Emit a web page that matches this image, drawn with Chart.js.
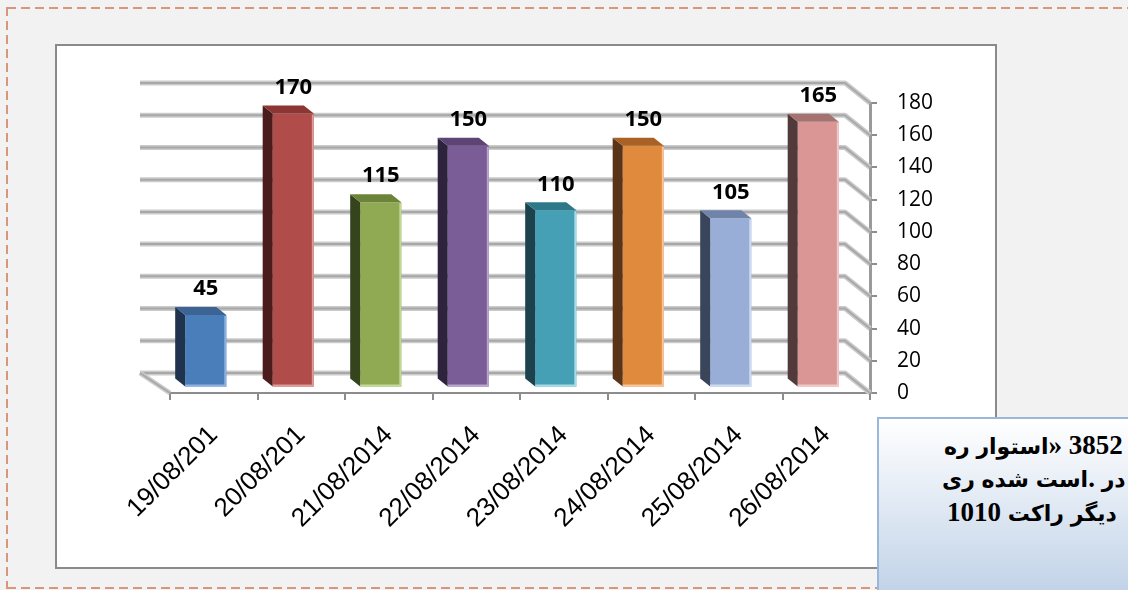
<!DOCTYPE html>
<html>
<head>
<meta charset="utf-8">
<script src="https://cdn.jsdelivr.net/npm/chart.js@4.4.1/dist/chart.umd.min.js"></script>
<style>
  html, body { margin: 0; padding: 0; }
  body { width: 1128px; height: 590px; background: #f2f2f2; position: relative; overflow: hidden; }
  .dash-h { position: absolute; height: 2px; background: repeating-linear-gradient(90deg, #d8967a 0 9px, transparent 9px 14px); }
  .dash-v { position: absolute; width: 2px; background: repeating-linear-gradient(180deg, #d8967a 0 9px, transparent 9px 14px); }
  #box { position: absolute; left: 55px; top: 44px; width: 938px; height: 521px; border: 2px solid #8a8a8a; background: #fff; }
  #box canvas { position: absolute; left: 0; top: 0; }
  #note { position: absolute; left: 877px; top: 417px; width: 320px; height: 200px; border: 2px solid #9bb7da;
          background: linear-gradient(#ffffff, #b8cce4); }
  .line { position: absolute; left: 946px; white-space: nowrap; font: bold 27px "Liberation Serif", "DejaVu Sans", serif; color: #000; }
  .line span { display: inline-block; }
  .line .fa { font-size: 22px; }
</style>
</head>
<body>
<div class="dash-h" style="left:7px; top:7px; width:1121px;"></div>
<div class="dash-h" style="left:7px; top:587px; width:1121px;"></div>
<div class="dash-v" style="left:6px; top:7px; height:582px;"></div>

<div id="box"><canvas id="chart" width="938" height="521"></canvas></div>

<div id="note"></div>
<div class="line" style="top:430px; left:944px;"><span class="fa">ره</span> <span class="fa">استوار</span><span>»</span> <span>3852</span></div>
<div class="line" style="top:463px; left:942px;"><span class="fa">ری</span> <span class="fa">شده</span> <span class="fa">است</span><span>.</span> <span class="fa">در</span></div>
<div class="line" style="top:497px; left:947px;"><span>1010</span> <span class="fa">راکت</span> <span class="fa">دیگر</span></div>

<script>
// data
const categories = ['19/08/201', '20/08/201', '21/08/2014', '22/08/2014', '23/08/2014', '24/08/2014', '25/08/2014', '26/08/2014'];
const values = [45, 170, 115, 150, 110, 150, 105, 165];
const yMin = 0, yMax = 180, yStep = 20;

// colours per bar: front, side, top, edge highlight
const frontColors = ['#4a7ebb', '#b04c49', '#8faa52', '#7a5d96', '#45a0b6', '#e08a3e', '#98aed6', '#d99694'];
const sideColors  = ['#1f334f', '#4b1c1b', '#36441d', '#2e233e', '#1c434d', '#593416', '#39455a', '#523a3a'];
const topColors   = ['#3b6393', '#8c3634', '#6c843a', '#5c4574', '#2e7889', '#a96126', '#6f84a8', '#a47270'];
const edgeColors  = ['#8fb2df', '#dc9b99', '#c3d99a', '#b9a5cf', '#a8dbe7', '#f7c49a', '#cfdcf0', '#f0c9c8'];

// 3D geometry
const SHIFT_X = -8, SHIFT_Y = -5.5;   // bars sit a little inside the floor
const BAR_DX = -10, BAR_DY = -8;      // bar depth
const WALL_DY = -20;                  // back wall depth
function wallDx(x, a) {
  return -30 + 5 * (x - a.left) / (a.right - a.left);
}

function gridStroke(ctx, pts) {
  [[5, '#cbcbcb'], [2, '#a8a8a8']].forEach(function (s) {
    ctx.beginPath();
    ctx.lineWidth = s[0];
    ctx.strokeStyle = s[1];
    pts.forEach(function (p, i) { i ? ctx.lineTo(p[0], p[1]) : ctx.moveTo(p[0], p[1]); });
    ctx.stroke();
  });
}

function poly(ctx, pts, color) {
  ctx.beginPath();
  pts.forEach(function (p, i) { i ? ctx.lineTo(p[0], p[1]) : ctx.moveTo(p[0], p[1]); });
  ctx.closePath();
  ctx.fillStyle = color;
  ctx.fill();
}

const threeD = {
  id: 'threeD',
  beforeDatasetsDraw(chart) {
    const ctx = chart.ctx, a = chart.chartArea, y = chart.scales.y;
    const dl = wallDx(a.left, a), dr = wallDx(a.right, a);
    ctx.save();
    ctx.lineJoin = 'round';
    y.ticks.forEach(function (t) {
      const py = y.getPixelForValue(t.value);
      gridStroke(ctx, [[a.left + dl, py + WALL_DY], [a.right + dr, py + WALL_DY], [a.right, py]]);
    });
    gridStroke(ctx, [[a.left + dl, a.bottom + WALL_DY], [a.left, a.bottom]]);
    ctx.restore();
  },
  beforeDatasetDraw(chart) {
    chart.ctx.save();
    chart.ctx.translate(SHIFT_X, SHIFT_Y);
  },
  afterDatasetDraw(chart, args) {
    const ctx = chart.ctx;
    args.meta.data.forEach(function (el, i) {
      const p = el.getProps(['x', 'y', 'base', 'width'], true);
      const l = p.x - p.width / 2, r = p.x + p.width / 2;
      poly(ctx, [[l, p.y], [l + BAR_DX, p.y + BAR_DY], [l + BAR_DX, p.base + BAR_DY], [l, p.base]], sideColors[i]);
      poly(ctx, [[l, p.y], [r, p.y], [r + BAR_DX, p.y + BAR_DY], [l + BAR_DX, p.y + BAR_DY]], topColors[i]);
      ctx.fillStyle = edgeColors[i];
      ctx.fillRect(r - 2, p.y + 1, 2, p.base - p.y - 1);
      ctx.fillRect(l, p.base - 2, p.width, 2);
    });
    ctx.restore();
  },
  afterDatasetsDraw(chart) {
    const ctx = chart.ctx;
    ctx.save();
    ctx.font = 'bold 22px "Open Sans"';
    ctx.fillStyle = '#000';
    ctx.textAlign = 'center';
    ctx.textBaseline = 'middle';
    chart.getDatasetMeta(0).data.forEach(function (el, i) {
      ctx.fillText(String(values[i]), el.x + SHIFT_X, el.y + SHIFT_Y - 26);
    });
    ctx.restore();
  }
};

const ctx = document.getElementById('chart');

new Chart(ctx, {
  type: 'bar',
  data: {
    labels: categories,
    datasets: [
      {
        data: values,
        backgroundColor: frontColors,
        borderWidth: 0,
        barPercentage: 0.47,
        categoryPercentage: 1,
      },
    ],
  },
  options: {
    responsive: false,
    animation: false,
    layout: { padding: { left: 113, top: 57, right: 0, bottom: 0 } },
    plugins: { legend: { display: false }, tooltip: { enabled: false } },
    scales: {
      x: {
        grid: { offset: true, drawOnChartArea: false, tickLength: 7, color: '#8c8c8c', lineWidth: 2 },
        border: { color: '#8c8c8c', width: 2 },
        ticks: {
          autoSkip: false,
          maxRotation: 45,
          minRotation: 45,
          color: '#000',
          padding: 20,
          font: { family: 'Liberation Sans', size: 26 },
        },
        afterFit: function (s) { s.height = 174; },
      },
      y: {
        position: 'right',
        min: yMin,
        max: yMax,
        grid: { drawOnChartArea: false, tickLength: 7, color: '#8c8c8c', lineWidth: 2 },
        border: { color: '#9a9a9a', width: 3 },
        ticks: {
          stepSize: yStep,
          color: '#000',
          padding: 20,
          font: { family: 'Open Sans', size: 21 },
        },
        afterFit: function (s) { s.width = 125; },
      },
    },
  },
  plugins: [threeD],
});
</script>
</body>
</html>
